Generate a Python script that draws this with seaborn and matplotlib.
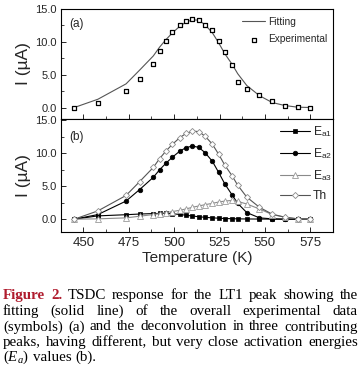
import matplotlib
matplotlib.use("Agg")
import matplotlib.pyplot as plt
import seaborn as sns
from matplotlib.ticker import MultipleLocator

# ---------------- data ----------------
T_exp = [445, 458, 473.5, 481, 488.5, 492, 495.5, 499, 503, 506.5, 510, 513.5,
         517, 521, 524.5, 528, 532, 535, 540, 547, 554, 561, 568, 575]
I_exp = [0.0, 0.76, 2.53, 4.29, 6.62, 8.54, 10.2, 11.5, 12.5, 13.1, 13.5, 13.4,
         12.6, 11.8, 10.15, 8.48, 6.5, 3.94, 2.83, 1.87, 0.96, 0.3, 0.05, 0.0]

T_dec = T_exp
E_a1 = [0.0, 0.5, 0.68, 0.78, 0.85, 0.87, 0.87, 0.82, 0.72, 0.6, 0.48, 0.37,
        0.28, 0.2, 0.15, 0.1, 0.07, 0.05, 0.03, 0.02, 0.01, 0.0, 0.0, 0.0]
E_a2 = [0.0, 0.7, 2.75, 4.5, 6.35, 7.5, 8.5, 9.4, 10.3, 10.85, 11.1, 10.9,
        10.1, 8.8, 7.1, 5.3, 3.65, 2.4, 1.0, 0.2, 0.05, 0.0, 0.0, 0.0]
E_a3 = [0.0, 0.05, 0.2, 0.45, 0.7, 0.85, 1.0, 1.15, 1.35, 1.55, 1.8, 2.0,
        2.2, 2.4, 2.6, 2.75, 2.85, 2.7, 2.3, 1.55, 0.7, 0.3, 0.05, 0.0]
I_th = [0.0, 1.26, 3.6, 5.7, 7.85, 9.2, 10.35, 11.35, 12.35, 13.0, 13.35, 13.3,
        12.6, 11.4, 9.85, 8.15, 6.55, 5.15, 3.35, 1.8, 0.76, 0.3, 0.05, 0.0]

x_ticks = [450, 475, 500, 525, 550, 575]
y_ticks = [0.0, 5.0, 10.0, 15.0]

caption_lines = [
    [("Figure", "fig"), ("2.", "fig"), ("TSDC", ""), ("response", ""), ("for", ""), ("the", ""),
     ("LT1", ""), ("peak", ""), ("showing", ""), ("the", "")],
    [("fitting", ""), ("(solid", ""), ("line)", ""), ("of", ""), ("the", ""), ("overall", ""),
     ("experimental", ""), ("data", "")],
    [("(symbols)", ""), ("(a)", ""), ("and", ""), ("the", ""), ("deconvolution", ""), ("in", ""),
     ("three", ""), ("contributing", "")],
    [("peaks,", ""), ("having", ""), ("different,", ""), ("but", ""), ("very", ""), ("close", ""),
     ("activation", ""), ("energies", "")],
    [("($E_a$)", ""), ("values", ""), ("(b).", "")],
]

# ---------------- style ----------------
sns.set_style("ticks")
plt.rcParams['font.family'] = ['Liberation Sans', 'DejaVu Sans']
plt.rcParams['mathtext.fontset'] = 'custom'
plt.rcParams['mathtext.rm'] = 'Liberation Sans'
plt.rcParams['mathtext.it'] = 'Liberation Serif:italic'
plt.rcParams['xtick.direction'] = 'in'
plt.rcParams['ytick.direction'] = 'in'
plt.rcParams['axes.linewidth'] = 0.8

W, H = 361, 369
fig = plt.figure(figsize=(W / 100, H / 100), dpi=100)
fig.patch.set_facecolor('white')

def px_axes(x0, y0, x1, y1):
    return fig.add_axes([x0 / W, 1 - y1 / H, (x1 - x0) / W, (y1 - y0) / H])

ax_a = px_axes(60.7, 9, 333, 119)
ax_b = px_axes(60.7, 119, 333, 231.7)

# ---------------- panel (a) ----------------
sns.lineplot(x=T_dec, y=I_th, ax=ax_a, color='#555555', lw=0.8, label='Fitting')
sns.scatterplot(x=T_exp, y=I_exp, ax=ax_a, marker='s', s=10, facecolor='white',
                edgecolor='black', linewidth=0.9, label='Experimental', zorder=3)
ax_a.set_ylim(-1.75, 15)
ax_a.legend(loc='upper left', bbox_to_anchor=(0.666, 0.93), frameon=False, fontsize=7.3,
            handlelength=2.3, handletextpad=0.3, labelspacing=0.75, borderaxespad=0, borderpad=0)
ax_a.text(0.032, 0.86, '(a)', transform=ax_a.transAxes, fontsize=8.5, va='center', ha='left')

# ---------------- panel (b) ----------------
sns.lineplot(x=T_dec, y=E_a1, ax=ax_b, color='black', lw=0.8, marker='s', markersize=3.2,
             markeredgewidth=0.5, markeredgecolor='black', label='E$_{\\mathrm{a1}}$')
sns.lineplot(x=T_dec, y=E_a2, ax=ax_b, color='black', lw=0.8, marker='o', markersize=3.3,
             markeredgewidth=0.5, markeredgecolor='black', label='E$_{\\mathrm{a2}}$')
sns.lineplot(x=T_dec, y=E_a3, ax=ax_b, color='#8a8a8a', lw=0.8, marker='^', markersize=3.8,
             markerfacecolor='white', markeredgecolor='#9a9a9a', markeredgewidth=0.6,
             label='E$_{\\mathrm{a3}}$')
sns.lineplot(x=T_dec, y=I_th, ax=ax_b, color='#555555', lw=0.8, marker='D', markersize=3.1,
             markerfacecolor='white', markeredgecolor='#8a8a8a', markeredgewidth=0.6, label='Th')
ax_b.set_ylim(-1.9, 15.2)
ax_b.legend(loc='upper left', bbox_to_anchor=(0.805, 0.955), frameon=False, fontsize=8.7,
            handlelength=2.5, handletextpad=0.2, labelspacing=0.6, borderaxespad=0, borderpad=0)
ax_b.text(0.032, 0.836, '(b)', transform=ax_b.transAxes, fontsize=8.5, va='center', ha='left')

# ---------------- axes formatting ----------------
for ax in (ax_a, ax_b):
    ax.set_xlim(437.5, 587.5)
    ax.set_xticks(x_ticks)
    ax.xaxis.set_minor_locator(MultipleLocator(12.5))
    ax.set_yticks(y_ticks)
    ax.set_yticklabels([f"{v:.1f}" for v in y_ticks])
    ax.yaxis.set_minor_locator(MultipleLocator(2.5))
    ax.tick_params(which='major', length=3.5, width=0.7, labelsize=8, pad=3)
    ax.tick_params(which='minor', length=2, width=0.6)
    ax.tick_params(top=False, right=False, which='both')
    for s in ax.spines.values():
        s.set_visible(True)
        s.set_color('black')
        s.set_linewidth(0.8)
    ax.set_ylabel('I (µA)', fontsize=12.5, labelpad=3)
    ax.set_xlabel('')

ax_a.tick_params(axis='x', labelbottom=False)
ax_b.tick_params(axis='x', labelsize=9.5, pad=3.5)
ax_b.set_xlabel('Temperature (K)', fontsize=11, labelpad=2)
fig.align_ylabels([ax_a, ax_b])

# ---------------- caption (justified) ----------------
renderer = fig.canvas.get_renderer()
x_left, x_right = 3, 358
baselines = [299, 315, 330.5, 346, 361]
cap_size = 10.8
for li, (words, yb) in enumerate(zip(caption_lines, baselines)):
    txts = []
    for w, kind in words:
        if kind == 'fig':
            t = fig.text(0, 1 - yb / H, w, fontsize=cap_size, family='Liberation Serif',
                         weight='bold', color='#b01c2e', va='baseline', ha='left')
        else:
            t = fig.text(0, 1 - yb / H, w, fontsize=cap_size, family='Liberation Serif',
                         color='black', va='baseline', ha='left')
        txts.append(t)
    widths = [t.get_window_extent(renderer).width for t in txts]
    last = li == len(caption_lines) - 1
    if last or len(txts) < 2:
        gap = 3.8
    else:
        gap = (x_right - x_left - sum(widths)) / (len(txts) - 1)
    x = x_left
    for t, wd in zip(txts, widths):
        t.set_x(x / W)
        x += wd + gap

fig.savefig('out.png', dpi=100)
